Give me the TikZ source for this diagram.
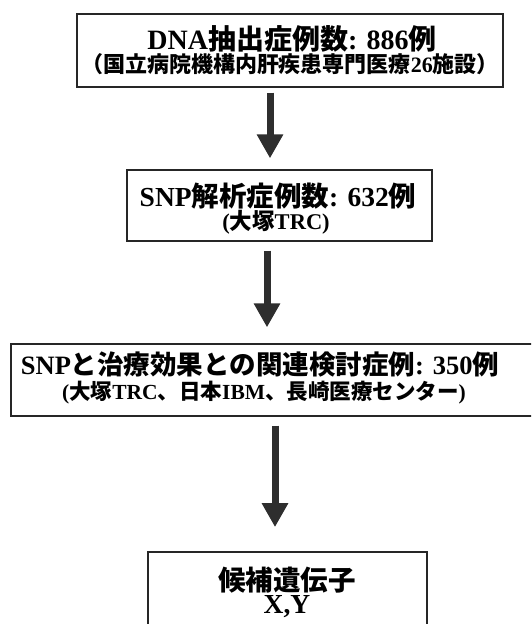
\documentclass[tikz,border=0pt]{standalone}
\usepackage{fontspec}
\setmainfont{Liberation Serif}
\newfontfamily\jp{Noto Sans CJK JP}
\newcommand\J[1]{{\jp\bfseries #1}}
\usetikzlibrary{arrows.meta}
\begin{document}
\begin{tikzpicture}[x=1pt,y=-1pt,
  frame/.style={draw=black!85,line width=1.3pt,inner sep=0pt,fill=none},
  txt/.style={font=\bfseries,inner sep=0pt,anchor=center},
  bigarrow/.style={draw=black!82,line width=7pt,-{Triangle[width=25pt,length=24pt]}}]
\useasboundingbox (0,0) rectangle (531,624);
\clip (0,0) rectangle (531,624);
\fill[white] (0,0) rectangle (531,624);
\node[frame,minimum width=426pt,minimum height=73pt] (b1) at (290,50.5) {};
\node[frame,minimum width=305pt,minimum height=71pt] (b2) at (279.5,205.5) {};
\node[frame,minimum width=534pt,minimum height=72pt] (b3) at (278,380) {};
\node[frame,line width=1.8pt,minimum width=279pt,minimum height=96pt] (b4) at (287.5,600) {};
\node[txt,font=\fontsize{28}{28}\selectfont\bfseries] (t1a) at (292,39) {DNA\J{抽出症例数}: 886\J{例}};
\node[txt,font=\fontsize{22}{22}\selectfont\bfseries] (t1b) at (290,64) {\J{（国立病院機構内肝疾患専門医療}26\J{施設）}};
\node[txt,font=\fontsize{27.5}{27.5}\selectfont\bfseries] (t2a) at (278,196) {SNP\J{解析症例数}: 632\J{例}};
\node[txt,font=\fontsize{22.5}{22.5}\selectfont\bfseries] (t2b) at (276,222) {(\J{大塚}TRC)};
\node[txt,font=\fontsize{26.5}{26.5}\selectfont\bfseries] (t3a) at (260,364) {SNP\J{と治療効果との関連検討症例}: 350\J{例}};
\node[txt,font=\fontsize{21.5}{21.5}\selectfont\bfseries] (t3b) at (264,393) {(\J{大塚}TRC\J{、日本}IBM\J{、長崎医療センター})};
\node[txt,font=\fontsize{27.5}{27.5}\selectfont\bfseries] (t4a) at (287,580) {\J{候補遺伝子}};
\node[txt,font=\fontsize{27.5}{27.5}\selectfont\bfseries] (t4b) at (287,607) {X,Y};
\draw[bigarrow] ([xshift=-20pt,yshift=-5pt]b1.south) -- ([xshift=-9.5pt,yshift=11pt]b2.north);
\draw[bigarrow] ([xshift=-12.5pt,yshift=-9pt]b2.south) -- ([xshift=-11pt,yshift=16pt]b3.north);
\draw[bigarrow] ([xshift=-3pt,yshift=-9pt]b3.south) -- ([xshift=-12.5pt,yshift=24pt]b4.north);
\end{tikzpicture}
\end{document}
